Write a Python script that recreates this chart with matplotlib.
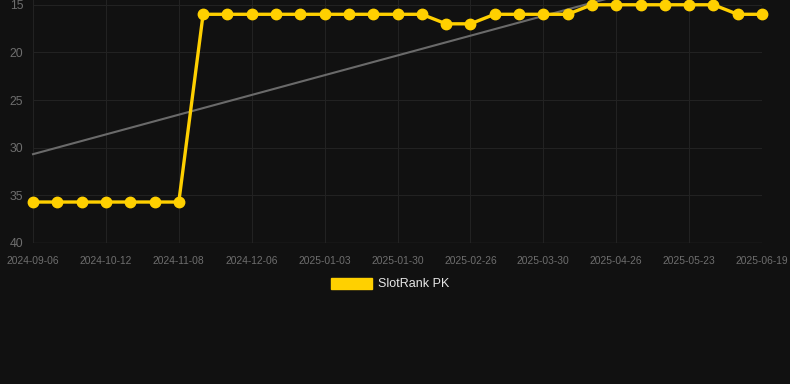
import numpy as np
import matplotlib
matplotlib.use("Agg")
import matplotlib.pyplot as plt
from matplotlib.patches import Patch

# Rank history (lower number = better rank), one point per snapshot
dates = ["2024-09-06", "2024-09-18", "2024-09-30", "2024-10-12", "2024-10-21",
         "2024-10-30", "2024-11-08", "2024-11-17", "2024-11-27", "2024-12-06",
         "2024-12-15", "2024-12-24", "2025-01-03", "2025-01-12", "2025-01-21",
         "2025-01-30", "2025-02-08", "2025-02-17", "2025-02-26", "2025-03-08",
         "2025-03-19", "2025-03-30", "2025-04-08", "2025-04-17", "2025-04-26",
         "2025-05-05", "2025-05-14", "2025-05-23", "2025-06-01", "2025-06-10",
         "2025-06-19"]
rank = [35.7, 35.7, 35.7, 35.7, 35.7, 35.7, 35.7,
        16, 16, 16, 16, 16, 16, 16, 16, 16, 16,
        17, 17,
        16, 16, 16, 16,
        15, 15, 15, 15, 15, 15,
        16, 16]
series_name = "SlotRank PK"

bg = "#111111"
yellow = "#FFD000"
tick_col = "#6e6e6e"
grid_col = "#222222"

plt.rcParams["font.family"] = ["Liberation Sans", "DejaVu Sans"]

fig = plt.figure(figsize=(7.9, 3.84), dpi=100, facecolor=bg)
ax = fig.add_axes([33 / 790, 1 - 243 / 384, (762 - 33) / 790, 243 / 384])
ax.set_facecolor(bg)

x = np.arange(len(rank))

# linear trend over the series
coef = np.polyfit(x, rank, 1)
ax.plot(x, np.polyval(coef, x), color="#6a6a6a", lw=1.5, zorder=2)

ax.plot(x, rank, color=yellow, lw=2.4, marker="o", ms=7.5, zorder=3)

ax.set_xlim(0, len(rank) - 1)
ax.set_ylim(40, 14.5)
ax.set_yticks([15, 20, 25, 30, 35, 40])
ax.set_xticks(x[::3])
ax.set_xticklabels(dates[::3])

ax.tick_params(axis="y", colors=tick_col, labelsize=8.8, length=0, pad=7)
ax.tick_params(axis="x", colors=tick_col, labelsize=7.4, length=0, pad=9)
ax.grid(True, color=grid_col, lw=0.8)
ax.set_axisbelow(True)
for s in ax.spines.values():
    s.set_visible(False)
ax.axhline(40, color="#2c2c2c", lw=1, zorder=1)

# let the lines and markers run past the plot edges, clip to the figure instead
for ln in ax.lines[:2]:
    ln.set_clip_box(fig.bbox)

fig.legend(handles=[Patch(facecolor=yellow, edgecolor=yellow, label=series_name)],
           loc="center", bbox_to_anchor=(390 / 790, 1 - 284 / 384), frameon=False,
           handlelength=3.3, handleheight=1.0, handletextpad=0.5,
           fontsize=9, labelcolor="#e6e6e6")

fig.savefig("out.png", dpi=100, facecolor=bg)
